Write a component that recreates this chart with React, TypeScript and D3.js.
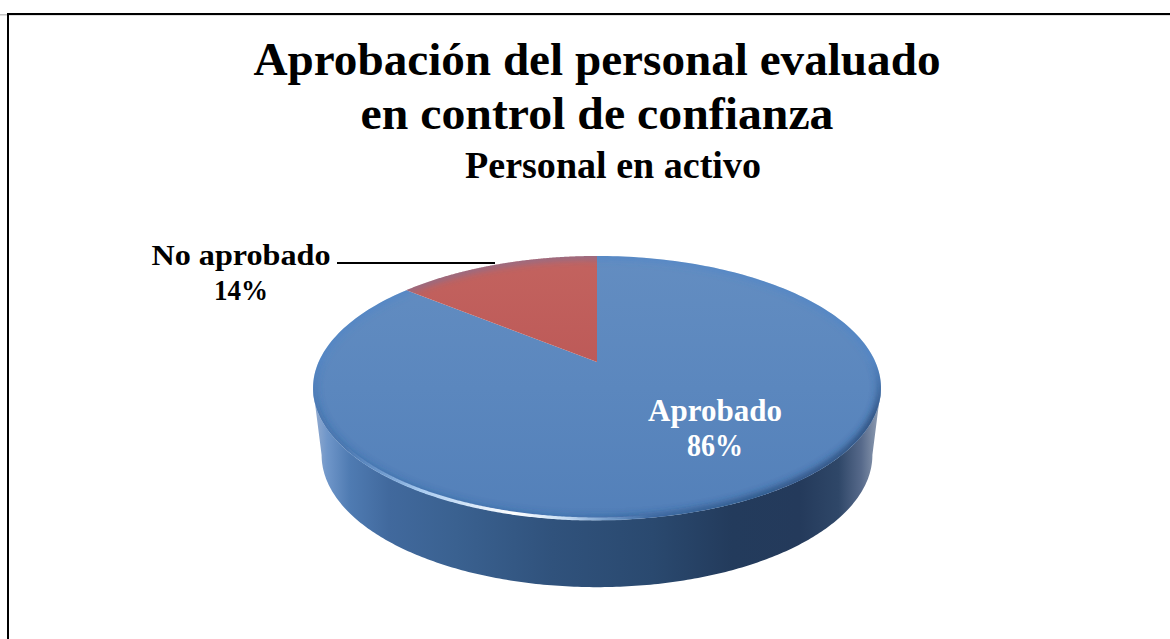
import React from "react";
import * as d3 from "d3";

const categories = ["Aprobado", "No aprobado"];
const shares = [86, 14];
const percentLabels = ["86%", "14%"];
const sliceColors = ["url(#faceBlue)", "url(#faceRed)"];
const titleLines = ["Aprobación del personal evaluado", "en control de confianza", "Personal en activo"];

const W = 1170;
const H = 639;
const FONT = "'Liberation Serif', 'DejaVu Serif', serif";

// Perspective projection of the unit disc onto the page
const cx = 597;
const K = 0.197;
const project = (b: number, a: number, y0: number) => (theta: number, r = 1): [number, number] => {
  const u = r * Math.sin(theta);
  const v = r * Math.cos(theta);
  const w = 1 + K * v;
  return [cx + (b * u) / w, y0 - (a * v) / w];
};
const topDisc = project(278.4, 126.9, 362);
const lowDisc = project(270, 127, 429);

const angles = (from: number, to: number, n = 240) => d3.range(n + 1).map((i) => from + ((to - from) * i) / n);
const line = d3.line<[number, number]>();
const closed = (pts: [number, number][]) => line(pts) + "Z";

const pieGen = d3.pie<number>().sort(null).value((d) => d);
const arcs = pieGen(shares);

const slicePath = (s: number, e: number) => closed([topDisc(0, 0), ...angles(s, e).map((t) => topDisc(t))]);
const discPath = closed(angles(0, 2 * Math.PI, 360).map((t) => topDisc(t)));
const edgeR = Math.PI / 2 + 0.198;
const edgeL = (3 * Math.PI) / 2 - 0.198;
const sidePath = closed([
  ...angles(edgeR, edgeL).map((t) => lowDisc(t)),
  ...angles(edgeL, edgeR).map((t) => topDisc(t)),
]);
const rimHighlight = line(angles(Math.PI * 0.95, Math.PI * 1.4).map((t) => topDisc(t, 0.995))) as string;
const rimAll = line(angles(0, 2 * Math.PI, 360).map((t) => topDisc(t))) as string;

const sideStops: [number, string][] = [
  [0, "#8fa9cf"], [0.02, "#6f96c9"], [0.06, "#4f7bb2"], [0.13, "#41699d"], [0.25, "#3a6190"],
  [0.42, "#30527c"], [0.6, "#2a496f"], [0.74, "#233b5c"], [0.86, "#243a5b"], [0.93, "#2f4768"],
  [0.97, "#56698a"], [1, "#8c9ab0"],
];

export default function App() {
  const s = { fontFamily: FONT, fontWeight: 700 } as const;
  return (
    <svg width={W} height={H} style={{ position: "absolute", left: 0, top: 0, display: "block", background: "#fff" }}>
      <defs>
        <linearGradient id="faceBlue" gradientUnits="userSpaceOnUse" x1="0" y1="256" x2="0" y2="520">
          <stop offset="0" stopColor="#638dc1" />
          <stop offset="0.5" stopColor="#5b87be" />
          <stop offset="1" stopColor="#5380b9" />
        </linearGradient>
        <linearGradient id="faceRed" gradientUnits="userSpaceOnUse" x1="0" y1="256" x2="0" y2="362">
          <stop offset="0" stopColor="#c3635f" />
          <stop offset="1" stopColor="#bd5a58" />
        </linearGradient>
        <linearGradient id="sideGrad" gradientUnits="userSpaceOnUse" x1="316" y1="0" x2="878" y2="0">
          {sideStops.map(([o, c]) => <stop key={o} offset={o} stopColor={c} />)}
        </linearGradient>
        <linearGradient id="shine" gradientUnits="userSpaceOnUse" x1="345" y1="0" x2="650" y2="0">
          <stop offset="0" stopColor="#8fbcf0" stopOpacity="0" />
          <stop offset="0.25" stopColor="#b5d6f8" stopOpacity="0.9" />
          <stop offset="0.55" stopColor="#ffffff" stopOpacity="1" />
          <stop offset="0.72" stopColor="#d5e8fb" stopOpacity="0.9" />
          <stop offset="1" stopColor="#9cc4f0" stopOpacity="0" />
        </linearGradient>
        <linearGradient id="rimDark" gradientUnits="userSpaceOnUse" x1="560" y1="0" x2="880" y2="0">
          <stop offset="0" stopColor="#1f3a60" stopOpacity="0.25" />
          <stop offset="0.6" stopColor="#1f3a60" stopOpacity="0.7" />
          <stop offset="1" stopColor="#1f3a60" stopOpacity="0.85" />
        </linearGradient>
        <linearGradient id="rimFade" gradientUnits="userSpaceOnUse" x1="0" y1="360" x2="0" y2="520">
          <stop offset="0" stopColor="#fff" stopOpacity="0" />
          <stop offset="0.35" stopColor="#fff" stopOpacity="1" />
        </linearGradient>
        <mask id="rimMask" maskUnits="userSpaceOnUse" x="0" y="0" width={W} height={H}>
          <rect width={W} height={H} fill="url(#rimFade)" />
        </mask>
        <clipPath id="discClip"><path d={discPath} /></clipPath>
        <filter id="blur4" x="-10%" y="-10%" width="120%" height="120%"><feGaussianBlur stdDeviation="3.5" /></filter>
        <filter id="blur1" x="-10%" y="-10%" width="120%" height="120%"><feGaussianBlur stdDeviation="0.7" /></filter>
      </defs>

      <rect x="0" y="14" width={W} height="1.5" fill="#c4c4c4" />
      <rect x="7" y="13" width={W} height="2" fill="#000" />
      <rect x="7" y="13" width="2" height={H} fill="#000" />

      <g textAnchor="middle" fill="#000" style={s}>
        <text x={597} y={75} fontSize={47} textLength={687} lengthAdjust="spacingAndGlyphs">{titleLines[0]}</text>
        <text x={597} y={129} fontSize={47} textLength={473} lengthAdjust="spacingAndGlyphs">{titleLines[1]}</text>
        <text x={613} y={178} fontSize={38} textLength={296} lengthAdjust="spacingAndGlyphs">{titleLines[2]}</text>
      </g>

      <path d={sidePath} fill="url(#sideGrad)" />

      {arcs.map((a, i) => (
        <path key={categories[i]} d={slicePath(a.startAngle, a.endAngle)} fill={sliceColors[i]} />
      ))}

      <g clipPath="url(#discClip)">
        <path d={rimAll} fill="none" stroke="#3f7fcf" strokeOpacity="0.4" strokeWidth="7" filter="url(#blur4)" />
        <g mask="url(#rimMask)">
          <path d={rimAll} fill="none" stroke="url(#rimDark)" strokeWidth="7" filter="url(#blur4)" />
        </g>
      </g>
      <path d={rimHighlight} fill="none" stroke="url(#shine)" strokeWidth="3.2" filter="url(#blur1)" />

      <line x1={337} x2={495} y1={263} y2={263} stroke="#000" strokeWidth={2} />

      <g textAnchor="middle" style={s}>
        <text x={241} y={265} fill="#000" fontSize={30} textLength={179} lengthAdjust="spacingAndGlyphs">{categories[1]}</text>
        <text x={241} y={300} fill="#000" fontSize={30} textLength={54} lengthAdjust="spacingAndGlyphs">{percentLabels[1]}</text>
        <text x={715} y={421} fill="#fff" fontSize={32} textLength={134} lengthAdjust="spacingAndGlyphs">{categories[0]}</text>
        <text x={715} y={456} fill="#fff" fontSize={32} textLength={56} lengthAdjust="spacingAndGlyphs">{percentLabels[0]}</text>
      </g>
    </svg>
  );
}
